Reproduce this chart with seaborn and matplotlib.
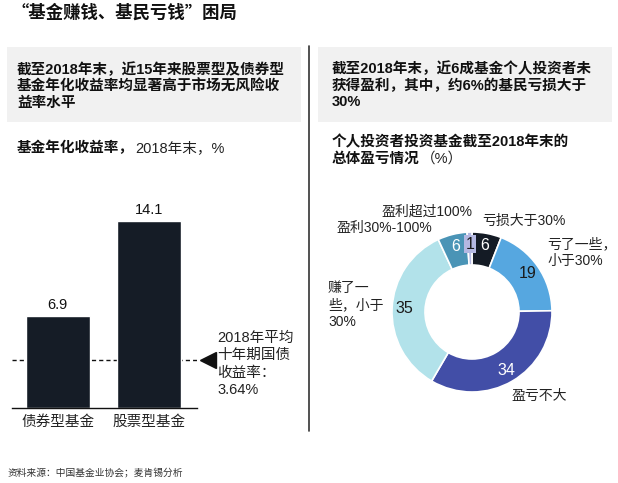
import matplotlib
matplotlib.use('Agg')
import matplotlib.pyplot as plt
import matplotlib.transforms as mtransforms
from matplotlib.patches import Rectangle
from matplotlib.lines import Line2D
import seaborn as sns
import pandas as pd
import numpy as np

sns.set_theme(style='white')
FAM = ['Liberation Sans', 'Noto Sans CJK SC', 'DejaVu Sans']
plt.rcParams['font.family'] = FAM

# ---------------- data ----------------
title = "“基金赚钱、基民亏钱”困局"
left_box_lines = ["截至2018年末，近15年来股票型及债券型",
                  "基金年化收益率均显著高于市场无风险收",
                  "益率水平"]
right_box_lines = ["截至2018年末，近6成基金个人投资者未",
                   "获得盈利，其中，约6%的基民亏损大于",
                   "30%"]
left_sub_bold = "基金年化收益率，"
left_sub_rest = "2018年末，%"
right_sub_line1 = "个人投资者投资基金截至2018年末的"
right_sub_bold2 = "总体盈亏情况"
right_sub_rest2 = "（%）"
fund_types = ["债券型基金", "股票型基金"]
fund_returns = [6.9, 14.1]
bond_yield = 3.64
bond_label = "2018年平均\n十年期国债\n收益率：\n3.64%"
pie_labels = ["亏损大于30%", "亏了一些，\n小于30%", "盈亏不大",
              "赚了一\n些，小于\n30%", "盈利30%-100%", "盈利超过100%"]
pie_values = [6, 19, 34, 35, 6, 1]
pie_colors = ["#141b25", "#56a7e0", "#424ea7", "#b2e2ea", "#4a94b6", "#b4b8e2"]
pie_text_colors = ["white", "#1a1a1a", "white", "#1a1a1a", "white", "#1a1a1a"]
source = "资料来源：中国基金业协会；麦肯锡分析"

W, H = 618, 483
fig = plt.figure(figsize=(W / 100, H / 100), dpi=100)
fig.patch.set_facecolor('white')


def fx(x):
    return x / W


def fy(y):
    return 1 - y / H


def ftext(x, y, s, **kw):
    kw.setdefault('ha', 'left')
    kw.setdefault('va', 'center')
    kw.setdefault('color', '#111111')
    return fig.text(fx(x), fy(y), s, **kw)


# title (CJK font first so the quotes are full width)
ftext(12, 13, title, fontsize=12.5, fontweight='bold',
      family=['Noto Sans CJK SC', 'DejaVu Sans'])

# gray boxes
for (x0, x1) in [(7, 301), (318, 612)]:
    fig.patches.append(Rectangle((fx(x0), fy(122)), fx(x1 - x0), (122 - 47) / H,
                                 transform=fig.transFigure, facecolor='#f1f1f1',
                                 edgecolor='none', zorder=0))

# divider
fig.add_artist(Line2D([fx(309), fx(309)], [fy(46), fy(431)], transform=fig.transFigure,
                      color='#333333', lw=1.2))

# box texts
for i, line in enumerate(left_box_lines):
    ftext(17, 70 + i * 16.5, line, fontsize=10.5, fontweight='bold')
for i, line in enumerate(right_box_lines):
    ftext(332, 69 + i * 16.5, line, fontsize=10.5, fontweight='bold')

renderer = fig.canvas.get_renderer()


def two_part(x, y, bold, rest, size):
    t = ftext(x, y, bold, fontsize=size, fontweight='bold')
    bb = t.get_window_extent(renderer=renderer)
    ftext(bb.x1 + 1, y, rest, fontsize=size, color='#222222')


two_part(17, 148, left_sub_bold, left_sub_rest, 10.5)
ftext(332, 142, right_sub_line1, fontsize=10.5, fontweight='bold')
two_part(332, 159, right_sub_bold2, right_sub_rest2, 10.5)

# ---------------- bar chart ----------------
base_y, ymax = 408, 16.0
px_per_unit = 187 / 14.1
top_y = base_y - ymax * px_per_unit
ax = fig.add_axes([fx(12), fy(base_y), 185 / W, (base_y - top_y) / H])
df = pd.DataFrame({"type": fund_types, "ret": fund_returns})
sns.barplot(data=df, x="type", y="ret", ax=ax, color="#151c26", saturation=1,
            width=0.7, errorbar=None)
ax.set_xlim(-0.5, 1.52)
ax.set_ylim(0, ymax)
ax.bar_label(ax.containers[0], labels=[f"{v:.1f}" for v in fund_returns],
             padding=3, fontsize=10.5, color='#111111')
ax.axhline(bond_yield, color='#111111', lw=1, ls=(0, (3, 2.2)), zorder=0)
for s in ['top', 'right', 'left']:
    ax.spines[s].set_visible(False)
ax.spines['bottom'].set_color('#111111')
ax.spines['bottom'].set_linewidth(1)
ax.set_yticks([])
ax.set_xlabel('')
ax.set_ylabel('')
ax.tick_params(axis='x', length=0, pad=5, labelsize=10.5, labelcolor='#222222')
ax.set_facecolor('none')
trans = mtransforms.blended_transform_factory(ax.transAxes, ax.transData)
ax.plot([(208 - 12) / 185], [bond_yield], marker='<', markersize=12, color='#111111',
        transform=trans, clip_on=False)
trans_txt = trans + mtransforms.ScaledTranslation(0, -3 / 72, fig.dpi_scale_trans)
ax.text((217 - 12) / 185, bond_yield, bond_label, transform=trans_txt, ha='left',
        va='center', fontsize=10.5, color='#222222', linespacing=1.32)

# ---------------- donut ----------------
cx, cy, box = 472, 312, 200
ax2 = fig.add_axes([fx(cx - box / 2), fy(cy + box / 2), box / W, box / H])
wedges, _ = ax2.pie(pie_values, colors=pie_colors, startangle=90, counterclock=False,
                    radius=0.8, wedgeprops=dict(width=0.33, edgecolor='white', linewidth=1.2))
ax2.set_xlim(-1, 1)
ax2.set_ylim(-1, 1)
ax2.set_aspect('equal')
ax2.axis('off')
for w, v, tc in zip(wedges, pie_values, pie_text_colors):
    ang = np.deg2rad((w.theta1 + w.theta2) / 2)
    r = 0.68
    kw = {}
    if v == 1:
        kw['bbox'] = dict(boxstyle='square,pad=0.12', facecolor=pie_colors[5], edgecolor='none')
    ax2.text(r * np.cos(ang), r * np.sin(ang), str(v), ha='center', va='center',
             fontsize=11.5, color=tc, **kw)

# outer labels
lab_pos = [(482, 221, 'left'), (547, 253, 'left'), (512, 396, 'left'),
           (328, 305, 'left'), (337, 228, 'left'), (382, 212, 'left')]
for lab, (x, y, ha) in zip(pie_labels, lab_pos):
    ftext(x, y, lab, fontsize=10, color='#222222', ha=ha, linespacing=1.25)

# source
ftext(8, 472, source, fontsize=7, color='#333333')

fig.savefig('out.png', dpi=100, facecolor='white')
